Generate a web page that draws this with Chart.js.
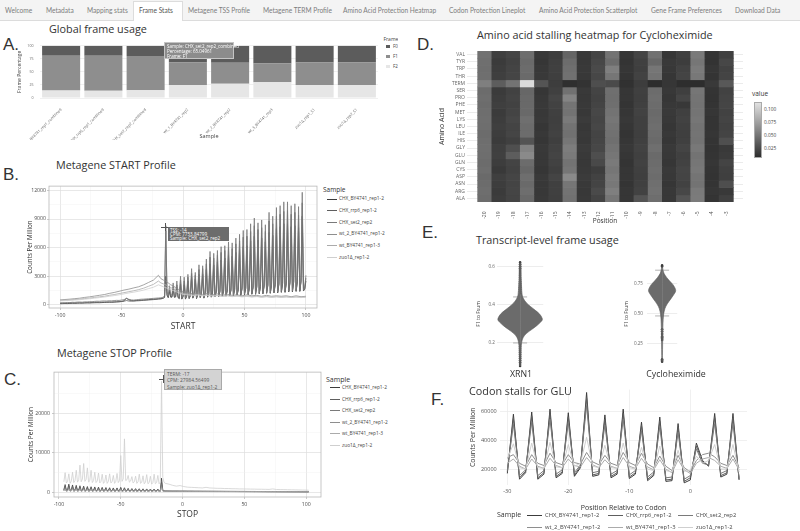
<!DOCTYPE html>
<html>
<head>
<meta charset="utf-8">
<script src="https://cdn.jsdelivr.net/npm/chart.js@4.4.1/dist/chart.umd.min.js"></script>
<style>
html,body{margin:0;padding:0;background:#fff;}
body{position:relative;width:800px;height:531px;overflow:hidden;font-family:'Open Sans',sans-serif;color:#333;}
.t{position:absolute;white-space:nowrap;}
#nav{position:absolute;left:0;top:0;width:800px;height:20px;background:#f4f4f4;border-bottom:1px solid #dcdcdc;}
.tab{position:absolute;top:0;height:20px;line-height:20px;font-family:Lato,sans-serif;font-size:6.6px;color:#7d7d7d;white-space:nowrap;}
#activeTab{position:absolute;top:1px;height:20px;background:#fff;border:1px solid #dcdcdc;border-bottom:none;box-sizing:border-box;}
.ttl{font-size:10.8px;line-height:10.8px;color:#333;}
.lt{font-family:'Liberation Sans',Arial,sans-serif;font-size:17px;line-height:17px;color:#333;}
canvas{position:absolute;}
.lg{position:absolute;white-space:nowrap;color:#333;}
.sw{position:absolute;height:0;}
.tip{position:absolute;white-space:nowrap;box-sizing:border-box;}
</style>
</head>
<body>
<div id="nav"></div>
<div id="activeTab" style="left:133px;width:50px;"></div>

<div class="t lt" style="left:3px;top:35.6px;">A.</div>
<div class="t lt" style="left:3px;top:165.6px;">B.</div>
<div class="t lt" style="left:4px;top:370.6px;">C.</div>
<div class="t lt" style="left:417px;top:35.6px;">D.</div>
<div class="t lt" style="left:422px;top:223.6px;">E.</div>
<div class="t lt" style="left:431px;top:390.6px;">F.</div>

<div class="t ttl" style="left:49px;top:24.4px;">Global frame usage</div>
<div class="t ttl" style="left:56px;top:160px;">Metagene START Profile</div>
<div class="t ttl" style="left:57px;top:347.7px;">Metagene STOP Profile</div>
<div class="t ttl" style="left:477px;top:29.9px;">Amino acid stalling heatmap for Cycloheximide</div>
<div class="t ttl" style="left:476px;top:234.8px;">Transcript-level frame usage</div>

<script>
// ================= DATA =================
const navTabs = ['Welcome','Metadata','Mapping stats','Frame Stats','Metagene TSS Profile','Metagene TERM Profile','Amino Acid Protection Heatmap','Codon Protection Lineplot','Amino Acid Protection Scatterplot','Gene Frame Preferences','Download Data'];

// A. Global frame usage (percent)
const frameSamples = ['CHX_BY4741_rep1_combined','CHX_rrp6_rep1_combined','CHX_set2_rep2_combined','wt_1_BY4741_rep2','wt_2_BY4741_rep2','wt_3_BY4741_rep3','zuo1Δ_rep1_S1','zuo1Δ_rep2_S1'];
const frameNames = ['F0','F1','F2'];
const frameF0 = [19.5,19.1,19.95,32.0,32.5,34.3,32.0,32.0];
const frameF1 = [66.1,67.0,65.05,43.4,40.1,35.4,43.4,43.4];
const frameF2 = [14.4,13.9,15.0,24.6,27.4,30.3,24.6,24.6];
const frameTicks = [0,25,50,75,100];

// shared sample names for B, C, F
const sampleNames = ['CHX_BY4741_rep1-2','CHX_rrp6_rep1-2','CHX_set2_rep2','wt_2_BY4741_rep1-2','wt_BY4741_rep1-3','zuo1Δ_rep1-2'];

// B. Metagene START profile
const startPos = [-100,-98,-96,-94,-92,-90,-88,-86,-84,-82,-80,-78,-76,-74,-72,-70,-68,-66,-64,-62,-60,-58,-56,-54,-52,-50,-48,-46,-44,-42,-40,-38,-36,-34,-32,-30,-28,-26,-24,-22,-20,-18,
-17,-16,-15,-14,-13,-12,-11,-10,-9,-8,-7,-6,-5,-4,-3,-2,-1,
0,1,2,3,4,5,6,7,8,9,10,11,12,13,14,15,16,17,18,19,20,21,22,23,24,25,26,27,28,29,30,31,32,33,34,35,36,37,38,39,40,41,42,43,44,45,46,47,48,49,50,
51,52,53,54,55,56,57,58,59,60,61,62,63,64,65,66,67,68,69,70,71,72,73,74,75,76,77,78,79,80,81,82,83,84,85,86,87,88,89,90,91,92,93,94,95,96,97,98,99,100];
const startPosWt = [-100,-96,-92,-88,-84,-80,-76,-72,-68,-64,-60,-56,-52,-48,-44,-40,-36,-32,-28,-24,-20,-18,-16,-14,-12,-10,-8,-6,-4,-2,0,4,8,12,16,20,24,28,32,36,40,44,48,52,56,60,64,68,72,76,80,84,88,92,96,100];
const startCHX_BY4741 = [120,130,140,135,150,160,155,170,180,175,190,200,195,210,220,230,225,240,250,260,270,265,280,300,320,350,420,700,520,450,430,450,470,490,510,530,550,570,590,610,640,660,
680,720,780,3000,1000,750,1400,800,800,1600,780,820,1800,750,650,2200,600,
850,2100,600,900,2500,650,950,2900,700,1000,2700,650,1050,3200,750,1100,3200,700,1150,3700,800,1200,4300,800,1250,4200,850,1300,4500,850,1350,4700,900,1400,4900,900,1450,5200,950,1500,5100,950,1550,5500,1000,1600,5800,1000,1650,6100,1050,1700,6200,1050,1750,6700,1100,1800,7200,1100,1850,6800,1150,1900,7000,1150,1950,6600,1200,2000,7600,1200,2050,7300,1250,2100,8000,1250,2150,8200,1300,2200,8500,1300,2250,8500,1350,2300,8200,1350,2350,8300,1400,2400,8100,1400,2450,9300,1450,1650,2500];
const startCHX_rrp6 = [160,170,180,175,190,200,195,210,220,215,230,240,235,250,260,270,265,280,290,300,310,305,320,330,340,350,380,450,400,380,400,420,430,450,470,490,510,530,550,570,600,620,
650,700,800,8300,1100,800,1700,900,850,1900,850,900,2100,800,700,2600,650,
900,2500,650,950,2900,700,1000,3300,750,1050,3100,700,1100,3700,800,1150,3800,750,1200,4300,850,1250,5000,850,1300,4900,900,1350,5200,900,1400,5500,950,1450,5700,950,1500,6000,1000,1550,5900,1000,1600,6400,1050,1650,6700,1050,1700,7100,1100,1750,7200,1100,1800,7700,1150,1850,8300,1150,1900,7900,1200,1950,8100,1200,2000,7700,1250,2050,8800,1250,2100,8500,1300,2150,9300,1300,2200,9500,1350,2250,9800,1350,2300,9900,1400,2350,9500,1400,2400,9700,1450,2450,9400,1450,2500,10700,1500,1700,2800];
const startCHX_set2 = [200,230,210,250,240,270,260,290,300,280,320,310,340,330,360,380,370,400,410,400,430,420,450,470,460,500,540,680,580,520,500,540,560,590,600,620,640,660,680,700,720,740,
760,820,950,7754,1400,900,2000,1100,1000,2300,1000,1100,2500,900,800,3000,700,
1000,2900,700,1000,3200,750,1100,3800,800,1150,3400,750,1200,4200,850,1250,4100,800,1300,4800,900,1350,5600,900,1400,5400,950,1450,5700,950,1500,6100,1000,1550,6200,1000,1600,6600,1050,1650,6500,1050,1700,7000,1100,1750,7400,1100,1800,7800,1150,1850,7900,1150,1900,8500,1200,1950,9100,1200,2000,8600,1250,2050,8900,1250,2100,8400,1300,2150,9700,1300,2200,9300,1350,2250,10200,1350,2300,10400,1400,2350,10800,1400,2400,10800,1450,2450,10400,1450,2500,10600,1500,2550,10300,1500,2600,11800,1550,1800,3100];
const startWt2 = [520,560,600,650,700,780,840,920,1000,1080,1200,1300,1420,1550,1650,1780,1900,2100,2350,2600,3100,2750,2600,2500,2300,2100,2000,1800,1650,1500,1350,1300,1150,1250,1100,1200,1050,1150,1000,1100,1000,1050,950,1050,950,1000,900,1000,900,950,900,950,850,950,850,900];
const startWt = [460,490,520,560,600,660,710,780,840,900,1000,1080,1180,1280,1380,1480,1600,1750,1950,2150,2500,2300,2200,2100,1950,1800,1700,1550,1450,1300,1200,1150,1050,1100,1000,1050,950,1000,900,980,900,950,860,930,850,900,820,880,800,860,800,850,780,840,780,820];
const startZuo = [420,440,470,500,540,590,640,700,760,820,900,970,1050,1150,1250,1330,1430,1550,1700,1850,2100,2000,1900,1800,1700,1600,1500,1400,1300,1200,1100,1050,980,1020,950,990,920,960,880,930,860,900,840,880,820,860,800,840,790,830,780,820,770,810,760,800];
const startXMajor = [-100,-50,0,50,100], startXMinor = [-75,-25,25,75];
const startYMajor = [0,3000,6000,9000,12000], startYMinor = [1500,4500,7500,10500];

// C. Metagene STOP profile
const stopPos = [-96,-95,-94,-93,-92,-91,-90,-89,-88,-87,-86,-85,-84,-83,-82,-81,-80,-79,-78,-77,-76,-75,-74,-73,-72,-71,-70,-69,-68,-67,-66,-65,-64,-63,-62,-61,-60,-59,-58,-57,-56,-55,-54,-53,-52,-51,-50,-49,-48,-47,-46,-45,-44,-43,-42,-41,-40,-39,-38,-37,-36,-35,-34,-33,-32,-31,-30,-29,-28,-27,-26,-25,-24,-23,-22,-21,-20,-19,-18,-17,-16,-15,-14,
-11,-8,-5,-2,1,4,7,10,13,16,19,22,25,28,31,34,37,40,43,46,49,52,55,58,61,64,67,70,73,76,79,82,85,88,91,94,97,100,102];
const stopCHX_BY4741 = [700,2000,500,700,2100,500,700,1900,480,680,1800,470,650,1700,460,640,1600,450,620,1500,440,600,1450,430,590,1400,420,580,1350,410,570,1300,400,560,1250,400,550,1200,390,540,1150,380,530,1150,380,520,1300,390,520,1200,380,510,1050,370,500,1000,360,490,980,350,480,950,350,470,930,340,460,900,340,450,880,330,440,860,330,430,850,320,420,3600,600,400,380,
350,340,340,330,330,320,320,310,310,300,300,300,290,290,290,280,280,280,270,270,270,260,260,260,250,250,250,240,240,240,230,230,230,220,220,220,210,210,210];
const stopCHX_rrp6 = [600,1600,450,600,1700,450,620,1550,440,600,1450,430,590,1400,420,580,1300,410,560,1250,400,550,1200,390,540,1150,380,530,1100,370,520,1080,360,510,1050,360,500,1000,350,490,980,350,480,960,340,470,1100,350,470,1050,340,460,900,330,450,880,320,440,860,320,430,840,310,420,820,310,410,800,300,400,780,300,400,770,290,390,760,290,380,2600,500,360,340,
320,310,310,300,300,295,290,285,280,280,275,270,270,265,260,260,255,250,250,245,240,240,235,230,230,225,220,220,215,210,210,205,200,200,195,190,190,185,180];
const stopCHX_set2 = [520,1300,400,520,1350,400,530,1250,390,520,1200,380,510,1150,370,500,1100,360,490,1050,350,480,1000,350,470,980,340,460,950,330,450,920,330,440,900,320,430,880,320,420,860,310,410,850,310,400,950,320,400,920,310,390,800,300,380,780,300,370,770,290,370,750,290,360,740,280,350,730,280,350,720,270,340,710,270,330,700,260,330,2000,450,320,300,
290,285,280,275,270,265,260,258,255,250,248,245,240,238,235,230,228,225,220,218,215,210,208,205,200,198,195,190,188,185,180,178,175,170,168,165,160,158,155];
const stopWt2 = [450,1000,350,450,1050,350,460,980,340,450,950,340,440,920,330,430,900,330,420,870,320,410,850,320,400,830,310,400,810,310,390,790,300,380,780,300,380,760,290,370,750,290,360,740,280,360,820,290,360,800,280,350,700,270,340,690,270,340,680,260,330,670,260,330,660,250,320,650,250,320,640,240,310,630,240,300,620,230,300,1500,400,300,320,
330,330,340,320,320,310,310,300,300,300,290,290,290,280,280,280,270,270,270,260,260,260,250,250,250,240,240,240,230,230,230,220,220,220,210,210,210,200,200];
const stopWt = [400,850,320,400,880,320,410,830,310,400,800,310,390,780,300,380,760,300,370,740,290,360,720,290,360,700,280,350,690,280,350,680,270,340,670,270,340,660,260,330,650,260,330,640,250,320,700,260,320,690,250,310,620,240,310,610,240,300,600,230,300,590,230,290,580,220,290,570,220,280,560,210,280,550,210,270,540,200,270,1200,350,280,300,
310,310,320,300,300,290,290,290,280,280,280,270,270,270,260,260,260,250,250,250,240,240,240,230,230,230,220,220,220,210,210,210,200,200,200,190,190,190,190];
const stopZuo = [2700,5000,2400,2800,4700,2300,2900,5100,2500,3000,5600,2600,3200,6900,2700,3400,7300,2800,3300,6200,2600,3100,5600,2500,3000,5100,2500,2900,4900,2400,2800,4600,2300,2700,4400,2300,2800,4700,2400,2700,4300,2300,2800,4800,2500,3000,9300,2800,3400,13500,3000,3200,4300,2600,2900,4000,2400,2700,4100,2300,2700,4600,2300,2600,4200,2200,2600,4500,2200,2500,4100,2100,2500,4600,2200,2500,4300,2200,2600,27984,3800,2600,2300,
2100,1800,1600,1750,1500,1350,1300,1250,1200,1150,1300,1150,1100,1050,1050,1000,1000,950,950,900,900,880,860,850,830,820,800,780,900,760,740,720,700,680,660,640,620,600,580];
const stopXMajor = [-100,-50,0,50,100], stopXMinor = [-75,-25,25,75];
const stopYMajor = [0,10000,20000], stopYMinor = [5000,15000,25000];

// D. Amino acid stalling heatmap (rows top -> bottom)
const heatAminoAcids = ['VAL','TYR','TRP','THR','TERM','SER','PRO','PHE','MET','LYS','LEU','ILE','HIS','GLY','GLU','GLN','CYS','ASP','ASN','ARG','ALA'];
const heatPositions = ['-20','-19','-18','-17','-16','-15','-14','-13','-12','-11','-10','-9','-8','-7','-6','-5','-4','-3'];
const heatVAL  = [0.047,0.017,0.021,0.045,0.013,0.016,0.040,0.014,0.020,0.048,0.012,0.020,0.047,0.012,0.017,0.052,0.011,0.018];
const heatTYR  = [0.046,0.015,0.019,0.043,0.012,0.017,0.044,0.013,0.022,0.044,0.011,0.018,0.041,0.014,0.016,0.050,0.010,0.022];
const heatTRP  = [0.045,0.016,0.020,0.044,0.013,0.018,0.046,0.014,0.024,0.055,0.012,0.017,0.050,0.013,0.019,0.053,0.012,0.019];
const heatTHR  = [0.046,0.017,0.021,0.043,0.014,0.017,0.047,0.013,0.022,0.050,0.011,0.019,0.048,0.012,0.020,0.051,0.011,0.020];
const heatTERM = [0.055,0.035,0.048,0.110,0.030,0.016,0.008,0.010,0.026,0.024,0.009,0.016,0.006,0.012,0.007,0.006,0.014,0.032];
const heatSER  = [0.044,0.015,0.019,0.041,0.012,0.018,0.047,0.014,0.020,0.046,0.012,0.018,0.044,0.013,0.017,0.050,0.011,0.019];
const heatPRO  = [0.045,0.016,0.020,0.042,0.013,0.021,0.058,0.013,0.019,0.045,0.012,0.017,0.045,0.012,0.021,0.049,0.010,0.020];
const heatPHE  = [0.044,0.017,0.019,0.042,0.014,0.019,0.049,0.014,0.020,0.046,0.011,0.018,0.044,0.013,0.013,0.048,0.011,0.021];
const heatMET  = [0.045,0.015,0.020,0.042,0.013,0.018,0.048,0.013,0.022,0.048,0.012,0.019,0.043,0.014,0.018,0.049,0.012,0.019];
const heatLYS  = [0.046,0.016,0.022,0.046,0.014,0.017,0.052,0.015,0.021,0.050,0.013,0.018,0.044,0.013,0.019,0.050,0.011,0.020];
const heatLEU  = [0.045,0.017,0.020,0.044,0.012,0.018,0.048,0.013,0.022,0.048,0.012,0.018,0.045,0.012,0.018,0.048,0.011,0.019];
const heatILE  = [0.044,0.016,0.021,0.044,0.013,0.019,0.047,0.014,0.020,0.047,0.011,0.017,0.044,0.013,0.017,0.049,0.012,0.020];
const heatHIS  = [0.045,0.015,0.018,0.030,0.012,0.017,0.050,0.013,0.021,0.046,0.012,0.018,0.043,0.012,0.018,0.048,0.011,0.027];
const heatGLY  = [0.046,0.017,0.027,0.057,0.014,0.019,0.054,0.015,0.022,0.048,0.013,0.019,0.046,0.014,0.020,0.051,0.010,0.014];
const heatGLU  = [0.045,0.018,0.035,0.062,0.013,0.020,0.052,0.014,0.026,0.050,0.012,0.018,0.043,0.013,0.018,0.048,0.011,0.015];
const heatGLN  = [0.044,0.016,0.020,0.044,0.013,0.019,0.048,0.013,0.023,0.052,0.011,0.019,0.044,0.012,0.019,0.050,0.012,0.020];
const heatCYS  = [0.045,0.014,0.019,0.041,0.012,0.017,0.050,0.014,0.016,0.050,0.012,0.018,0.045,0.014,0.021,0.051,0.011,0.018];
const heatASP  = [0.043,0.017,0.021,0.045,0.014,0.020,0.062,0.015,0.019,0.052,0.012,0.017,0.044,0.013,0.020,0.049,0.010,0.017];
const heatASN  = [0.044,0.016,0.020,0.043,0.013,0.018,0.050,0.014,0.020,0.051,0.011,0.018,0.046,0.012,0.019,0.048,0.011,0.026];
const heatARG  = [0.045,0.015,0.021,0.045,0.013,0.018,0.048,0.013,0.024,0.055,0.012,0.019,0.047,0.013,0.022,0.052,0.012,0.014];
const heatALA  = [0.044,0.016,0.020,0.042,0.014,0.017,0.047,0.014,0.020,0.050,0.012,0.030,0.045,0.013,0.030,0.053,0.011,0.018];
const heatRows = [heatVAL,heatTYR,heatTRP,heatTHR,heatTERM,heatSER,heatPRO,heatPHE,heatMET,heatLYS,heatLEU,heatILE,heatHIS,heatGLY,heatGLU,heatGLN,heatCYS,heatASP,heatASN,heatARG,heatALA];
const heatScaleLabels = ['0.100','0.075','0.050','0.025'];

// E. Transcript-level frame usage (violin outlines: level -> half density width)
const violinGroups = ['XRN1','Cycloheximide'];
const xrn1Levels = [0.08,0.12,0.16,0.19,0.21,0.23,0.25,0.27,0.29,0.31,0.32,0.33,0.35,0.37,0.39,0.41,0.43,0.45,0.50,0.55,0.60,0.62];
const xrn1Density = [0.02,0.03,0.04,0.05,0.08,0.14,0.28,0.50,0.72,0.90,0.96,0.95,0.85,0.66,0.45,0.27,0.15,0.09,0.06,0.04,0.03,0.02];
const xrn1Outliers = [0.08,0.09,0.10,0.11,0.12,0.13,0.14,0.15,0.16,0.17,0.18,0.19,0.46,0.47,0.48,0.49,0.50,0.51,0.52,0.53,0.54,0.55,0.56,0.57,0.58,0.59,0.60,0.61,0.62];
const xrn1Whiskers = [0.20,0.44];
const xrn1Ticks = [0.2,0.4,0.6];
const chxLevels = [0.10,0.20,0.30,0.38,0.45,0.48,0.52,0.56,0.60,0.64,0.67,0.69,0.71,0.74,0.77,0.80,0.83,0.86,0.89];
const chxDensity = [0.02,0.03,0.04,0.05,0.07,0.09,0.14,0.25,0.45,0.68,0.84,0.90,0.86,0.72,0.50,0.30,0.14,0.06,0.02];
const chxOutliers = [0.10,0.11,0.12,0.28,0.29,0.30,0.31,0.33,0.35,0.37,0.89,0.90];
const chxWhiskers = [0.48,0.86];
const chxTicks = [0.25,0.50,0.75];

// F. Codon stalls for GLU
const codonPos = [-30,-29,-28,-27,-26,-25,-24,-23,-22,-21,-20,-19,-18,-17,-16,-15,-14,-13,-12,-11,-10,-9,-8,-7,-6,-5,-4,-3,-2,-1,0,1,2,3,4,5,6,7,8];
const codonCHX_BY4741 = [17000,58000,13000,17500,59500,13000,16500,61500,14000,17000,59000,15000,21000,73000,15000,16000,57500,14000,16500,61500,13500,16500,52500,12000,15500,56000,11500,12000,51500,10500,12500,38000,26000,22000,58500,14500,16500,58500,12500];
const codonCHX_rrp6 = [18000,55000,14000,18500,56500,14000,17500,58500,15000,18000,56000,16000,22000,69000,16000,17000,54500,15000,17500,58500,14500,17500,50000,13000,16500,53000,12500,13000,49000,11500,14000,36000,25000,22500,55500,15500,17500,55500,13000];
const codonCHX_set2 = [19000,51000,15500,19500,52500,15500,19000,54500,16500,19500,52000,17500,23000,64000,17500,18500,50500,16500,19000,54500,16000,19000,46500,14500,18000,49500,14000,14500,45500,13000,15500,34000,24000,23000,51500,17000,19000,51500,14000];
const codonWt2 = [28000,30000,24000,22000,30000,24000,22500,31000,24500,23000,30000,24500,23500,31500,25000,23000,29500,24000,22500,31500,24500,22500,31000,23500,21000,29000,22000,19000,29500,21000,18000,26000,30000,31000,28500,24000,22500,29500,21000];
const codonWt = [24000,27000,22000,20000,27000,22000,20500,27500,22500,21000,27000,22500,21500,28000,23000,21000,26500,22000,20500,28000,22000,20500,27500,21500,19500,26500,20000,17500,26500,19500,17000,24000,27000,28000,26000,22000,20500,27000,19500];
const codonZuo = [27000,37500,21000,20000,38000,21000,20500,38500,21500,21000,37000,22000,24000,42000,22000,21000,36500,21000,20500,38000,21000,20000,35000,20000,19000,36000,19000,18000,33000,18500,19000,29000,24000,26000,37000,20000,20000,37000,18000];
const codonXTicks = [-30,-20,-10,0];
const codonYTicks = [20000,40000,60000];

// ================= STYLE / LAYOUT =================
const navX = [5,46,87,139,188,263,343,449,539,651,735];
const frameColors = ['#5c5c5c','#8e8e8e','#e6e6e6'];
const sampleColors = ['#3c3c3c','#5e5e5e','#7a7a7a','#8e8e8e','#ababab','#cfcfcf'];

Chart.defaults.font.family = "'Open Sans', sans-serif";
Chart.defaults.color = '#4d4d4d';
Chart.defaults.animation = false;
Chart.defaults.responsive = false;
Chart.defaults.devicePixelRatio = 1;
Chart.defaults.events = [];
Chart.defaults.plugins.legend.display = false;
Chart.defaults.plugins.tooltip.enabled = false;

const M = 2;
function mkCanvas(L, T, R, B, yW, xH) {
  const c = document.createElement('canvas');
  const w = R - L + yW + 2 * M, h = B - T + xH + 2 * M;
  c.width = w; c.height = h;
  c.style.left = (L - yW - M) + 'px'; c.style.top = (T - M) + 'px';
  c.style.width = w + 'px'; c.style.height = h + 'px';
  document.body.appendChild(c);
  return c;
}
const framePlugin = {
  id: 'frame',
  afterDatasetsDraw(chart, args, opts) {
    if (!opts || !opts.color) return;
    const a = chart.chartArea, ctx = chart.ctx;
    ctx.save(); ctx.strokeStyle = opts.color; ctx.lineWidth = 0.8;
    ctx.strokeRect(a.left, a.top, a.right - a.left, a.bottom - a.top);
    ctx.restore();
  }
};
function setTicks(list) { return s => { s.ticks = list.map(v => ({value: v})); }; }
function html(tag, cls, style, text) {
  const d = document.createElement(tag); if (cls) d.className = cls;
  d.setAttribute('style', style); if (text !== undefined) d.textContent = text;
  document.body.appendChild(d); return d;
}

// ---------- nav ----------
navTabs.forEach((t, i) => {
  html('div', 'tab', 'left:' + navX[i] + 'px;' + (i === 3 ? 'color:#555;' : ''), t);
});

// ---------- A ----------
(function () {
  const c = mkCanvas(40, 39, 378, 98, 37, 42);
  new Chart(c, {
    type: 'bar',
    data: { labels: frameSamples, datasets: [
      { label: 'F2', data: frameF2, backgroundColor: frameColors[2] },
      { label: 'F1', data: frameF1, backgroundColor: frameColors[1] },
      { label: 'F0', data: frameF0, backgroundColor: frameColors[0] }
    ]},
    options: {
      layout: { padding: M },
      datasets: { bar: { barPercentage: 0.9, categoryPercentage: 1, borderWidth: 0 } },
      scales: {
        x: { stacked: true, grid: { display: false }, border: { display: false },
             ticks: { autoSkip: false, minRotation: 45, maxRotation: 45, font: { size: 3.9 }, color: '#666', padding: 1.5 },
             title: { display: true, text: 'Sample', font: { size: 5.5 }, color: '#444', padding: { top: 0, bottom: 0.7 } },
             afterFit: s => { s.height = 42; } },
        y: { stacked: true, min: 0, max: 100, afterBuildTicks: setTicks(frameTicks),
             grid: { color: '#ececec', lineWidth: 0.8, drawTicks: false }, border: { display: false },
             ticks: { font: { size: 3.6 }, color: '#666', padding: 6.5 },
             title: { display: true, text: 'Frame Percentage', font: { size: 5 }, color: '#444', padding: { top: 14, bottom: 0 } },
             afterFit: s => { s.width = 37; } }
      }
    }
  });
  // legend (clipped by panel D edge)
  const box = html('div', '', 'position:absolute;left:380px;top:34px;width:18px;height:40px;overflow:hidden;');
  const lt = document.createElement('div'); lt.className = 'lg';
  lt.setAttribute('style', 'left:3.5px;top:2px;font-size:5px;line-height:6px;color:#444;'); lt.textContent = 'Frame'; box.appendChild(lt);
  frameNames.forEach((n, i) => {
    const sq = document.createElement('div');
    sq.setAttribute('style', 'position:absolute;left:6px;top:' + (10.5 + 10 * i) + 'px;width:3.5px;height:3.5px;background:' + frameColors[i] + ';');
    box.appendChild(sq);
    const tx = document.createElement('div'); tx.className = 'lg';
    tx.setAttribute('style', 'left:13px;top:' + (9.5 + 10 * i) + 'px;font-size:4.5px;line-height:5px;color:#444;'); tx.textContent = n;
    box.appendChild(tx);
  });
  html('div', 'tip', 'left:164px;top:41.5px;width:70px;height:17.5px;background:#8c8c8c;border:0.8px solid #c4c4c4;color:#fff;font-size:4.5px;line-height:5.2px;padding:1px 2px;',
    '').innerHTML = 'Sample: CHX_set2_rep2_combined<br>Percentage: 65.04961<br>Frame: F1';
})();

// ---------- B & C ----------
function profile(c, xArrays, yArrays, o) {
  const isMajX = v => o.xMajor.includes(v), isMajY = v => o.yMajor.includes(v);
  new Chart(c, {
    type: 'line',
    data: { datasets: yArrays.map((ys, i) => ({
      label: sampleNames[i],
      data: xArrays[i].map((x, j) => ({ x: x, y: ys[j] })),
      borderColor: sampleColors[i], borderWidth: 0.8, pointRadius: 0, tension: 0, order: -i
    })) },
    options: {
      layout: { padding: M },
      plugins: { frame: { color: '#b8b8b8' } },
      scales: {
        x: { type: 'linear', min: o.xMin, max: o.xMax, afterBuildTicks: setTicks(o.xMajor.concat(o.xMinor)),
             grid: { color: ctx => isMajX(ctx.tick.value) ? '#dedede' : '#efefef', lineWidth: ctx => isMajX(ctx.tick.value) ? 0.7 : 0.4,
                     drawTicks: true, tickLength: 2, tickColor: ctx => isMajX(ctx.tick.value) ? '#b3b3b3' : 'rgba(0,0,0,0)' },
             border: { display: false },
             ticks: { font: { size: 5.2 }, color: '#4d4d4d', padding: o.xPad, callback: v => isMajX(v) ? String(v) : '' },
             title: { display: true, text: o.xTitle, font: { size: 8.5 }, color: '#333', padding: { top: 0, bottom: 0 } },
             afterFit: s => { s.height = o.xH; } },
        y: { type: 'linear', min: o.yMin, max: o.yMax, afterBuildTicks: setTicks(o.yMajor.concat(o.yMinor)),
             grid: { color: ctx => isMajY(ctx.tick.value) ? '#dedede' : '#efefef', lineWidth: ctx => isMajY(ctx.tick.value) ? 0.7 : 0.4,
                     drawTicks: true, tickLength: 2, tickColor: ctx => isMajY(ctx.tick.value) ? '#b3b3b3' : 'rgba(0,0,0,0)' },
             border: { display: false },
             ticks: { font: { size: 5.2 }, color: '#4d4d4d', padding: o.yPad, callback: v => isMajY(v) ? String(v) : '' },
             title: { display: true, text: 'Counts Per Million', font: { size: o.yTitleSize }, color: '#333', padding: { top: o.yTitlePad, bottom: 0 } },
             afterFit: s => { s.width = o.yW; } }
      }
    },
    plugins: [framePlugin]
  });
}
function sideLegend(x, y0, step, titleSize, textSize) {
  html('div', 'lg', 'left:' + (x - 4) + 'px;top:' + (y0 - 8.5 - titleSize / 2) + 'px;font-size:' + titleSize + 'px;line-height:' + titleSize + 'px;', 'Sample');
  sampleNames.forEach((n, i) => {
    const y = y0 + step * i;
    html('div', 'sw', 'left:' + x + 'px;top:' + (y - 0.5) + 'px;width:10px;border-top:1px solid ' + sampleColors[i] + ';');
    html('div', 'lg', 'left:' + (x + 12) + 'px;top:' + (y - textSize / 2 - 0.3) + 'px;font-size:' + textSize + 'px;line-height:' + textSize + 'px;color:#444;', n);
  });
}
function cross(x, y) {
  html('div', '', 'position:absolute;left:' + (x - 4) + 'px;top:' + y + 'px;width:8px;border-top:0.8px solid #555;');
  html('div', '', 'position:absolute;left:' + x + 'px;top:' + (y - 4) + 'px;height:8px;border-left:0.8px solid #555;');
}
(function () {
  const c = mkCanvas(49, 184, 317, 308, 46, 24);
  profile(c, [startPos, startPos, startPos, startPosWt, startPosWt, startPosWt],
    [startCHX_BY4741, startCHX_rrp6, startCHX_set2, startWt2, startWt, startZuo],
    { xMin: -109, xMax: 109, yMin: -330, yMax: 12450, xMajor: startXMajor, xMinor: startXMinor, yMajor: startYMajor, yMinor: startYMinor,
      xTitle: 'START', xH: 24, yW: 46, xPad: 2.7, yPad: 1, yTitleSize: 6.3, yTitlePad: 23.2 });
  sideLegend(327, 199, 11.7, 6.5, 4.8);
  cross(165, 227.3);
  html('div', 'tip', 'left:168px;top:226.5px;width:61px;height:14.5px;background:#6c6c6c;color:#fff;font-size:4.6px;line-height:4.1px;padding:1.3px 2px;', '')
    .innerHTML = 'TSS: -14<br>CPM: 7753.84799<br>Sample: CHX_set2_rep2';
})();
(function () {
  const c = mkCanvas(54, 369, 321, 497, 50, 23);
  const xs = [stopPos, stopPos, stopPos, stopPos, stopPos, stopPos];
  profile(c, xs, [stopCHX_BY4741, stopCHX_rrp6, stopCHX_set2, stopWt2, stopWt, stopZuo],
    { xMin: -104, xMax: 112, yMin: -1130, yMax: 30300, xMajor: stopXMajor, xMinor: stopXMinor, yMajor: stopYMajor, yMinor: stopYMinor,
      xTitle: 'STOP', xH: 23, yW: 50, xPad: 2.3, yPad: 2, yTitleSize: 6.5, yTitlePad: 23.1 });
  sideLegend(330, 387.7, 11.5, 7, 4.8);
  cross(163.3, 379);
  html('div', 'tip', 'left:164px;top:369px;width:58px;height:21px;background:#d3d3d3;border:0.8px solid #a9a9a9;color:#555;font-size:4.9px;line-height:6.6px;padding:0.5px 2px;', '')
    .innerHTML = 'TERM: -17<br>CPM: 27984.56499<br>Sample: zuo1Δ_rep1-2';
})();

// ---------- D heatmap ----------
function heatGray(v) {
  const g = Math.round(45 + Math.max(0, Math.min(1, (v - 0.0066) / 0.1068)) * 180);
  return 'rgb(' + g + ',' + g + ',' + g + ')';
}
(function () {
  const c = mkCanvas(467, 48, 743, 202, 30, 24);
  const nRows = heatAminoAcids.length;
  const datasets = heatRows.map((row, r) => ({
    label: heatAminoAcids[r],
    data: row.map((v, j) => ({ x: j, y: [nRows - 1 - r - 0.5, nRows - 1 - r + 0.5] })),
    backgroundColor: row.map(v => heatGray(v)),
    borderWidth: 0, barPercentage: 1, categoryPercentage: 1, grouped: false
  }));
  new Chart(c, {
    type: 'bar',
    data: { datasets: datasets },
    options: {
      layout: { padding: M },
      scales: {
        x: { type: 'linear', min: -1.25, max: 18.18, offset: false,
             afterBuildTicks: setTicks(heatPositions.map((p, j) => j)),
             grid: { display: false }, border: { display: false },
             ticks: { autoSkip: false, minRotation: 90, maxRotation: 90, font: { size: 5 }, color: '#555', padding: 1.5,
                      callback: v => heatPositions[v] },
             title: { display: true, text: 'Position', font: { size: 6.5 }, color: '#333', padding: { top: 0, bottom: 1.4 } },
             afterFit: s => { s.height = 24; } },
        y: { type: 'linear', min: -0.5, max: nRows - 0.5,
             afterBuildTicks: setTicks(heatAminoAcids.map((a, i) => i)),
             grid: { color: '#e6e6e6', lineWidth: 0.8, drawTicks: false }, border: { display: false },
             ticks: { autoSkip: false, font: { size: 5 }, color: '#666', padding: 2,
                      callback: v => heatAminoAcids[nRows - 1 - v] },
             title: { display: true, text: 'Amino Acid', font: { size: 7 }, color: '#333', padding: { top: 0.5, bottom: 0 } },
             afterFit: s => { s.width = 30; } }
      }
    }
  });
  html('div', 'lg', 'left:752px;top:90px;font-size:6.5px;line-height:7px;color:#333;', 'value');
  html('div', '', 'position:absolute;left:754px;top:102px;width:8px;height:56px;box-sizing:border-box;border:0.6px solid #aaa;background:linear-gradient(to bottom, rgb(225,225,225), rgb(45,45,45));');
  const ly = [109, 122, 135.3, 148.3];
  heatScaleLabels.forEach((t, i) => html('div', 'lg', 'left:764px;top:' + (ly[i] - 2.5) + 'px;font-size:4.8px;line-height:5px;color:#444;', t));
})();

// ---------- E violins ----------
function violin(c, o) {
  const dens = o.density;
  new Chart(c, {
    type: 'line',
    data: { datasets: [
      { data: o.levels.map((y, i) => ({ x: -dens[i], y: y })), fill: { value: 0 }, backgroundColor: '#6b6b6b', borderColor: '#5d5d5d', borderWidth: 0.6, pointRadius: 0, tension: 0.35 },
      { data: o.levels.map((y, i) => ({ x: dens[i], y: y })), fill: { value: 0 }, backgroundColor: '#6b6b6b', borderColor: '#5d5d5d', borderWidth: 0.6, pointRadius: 0, tension: 0.35 },
      { data: o.outliers.map(y => ({ x: 0, y: y })), showLine: false, pointRadius: 1.3, pointBackgroundColor: '#3a3a3a', pointBorderWidth: 0 },
      { data: o.whiskers.map(y => ({ x: 0, y: y })), showLine: false, pointStyle: 'line', pointRadius: 7, pointBorderColor: '#a0a0a0', pointBorderWidth: 0.8 }
    ]},
    options: {
      indexAxis: 'y',
      layout: { padding: M },
      scales: {
        x: { type: 'linear', min: -1, max: 1, grid: { display: false }, border: { display: false }, ticks: { display: false },
             afterFit: s => { s.height = 12; } },
        y: { type: 'linear', min: o.yMin, max: o.yMax, afterBuildTicks: setTicks(o.ticks),
             grid: { color: '#e8e8e8', lineWidth: 0.8, drawTicks: false }, border: { display: false },
             ticks: { font: { size: 4.6 }, color: '#666', padding: o.yPad, callback: v => o.fmt(v) },
             title: { display: true, text: 'F1 to Fsum', font: { size: 5 }, color: '#444', padding: { top: o.tPad, bottom: 0 } },
             afterFit: s => { s.width = o.yW; } }
      }
    }
  });
  html('div', 'lg', 'left:' + (o.labelX - 50) + 'px;top:370.3px;width:100px;text-align:center;font-size:8.8px;line-height:8.8px;color:#333;', o.name);
}
violin(mkCanvas(497, 252, 549, 370, 26, 12), { name: violinGroups[0], labelX: 521, levels: xrn1Levels, density: xrn1Density, outliers: xrn1Outliers, whiskers: xrn1Whiskers,
  ticks: xrn1Ticks, yMin: 0.059, yMax: 0.644, yW: 26, yPad: 2, tPad: 5, fmt: v => v.toFixed(1) });
violin(mkCanvas(647, 252, 683, 370, 28, 12), { name: violinGroups[1], labelX: 676, levels: chxLevels, density: chxDensity, outliers: chxOutliers, whiskers: chxWhiskers,
  ticks: chxTicks, yMin: 0.031, yMax: 0.963, yW: 28, yPad: 4, tPad: 4.7, fmt: v => v.toFixed(2) });

// ---------- F ----------
(function () {
  const c = mkCanvas(500, 385, 747, 485, 31, 27);
  const ys = [codonCHX_BY4741, codonCHX_rrp6, codonCHX_set2, codonWt2, codonWt, codonZuo];
  new Chart(c, {
    type: 'line',
    data: { datasets: ys.map((arr, i) => ({ label: sampleNames[i], data: codonPos.map((x, j) => ({ x: x, y: arr[j] })),
      borderColor: sampleColors[i], borderWidth: 1, pointRadius: 0, tension: 0, order: -i })) },
    options: {
      layout: { padding: M },
      scales: {
        x: { type: 'linear', min: -31.2, max: 9.3, afterBuildTicks: setTicks(codonXTicks),
             grid: { color: '#ececec', lineWidth: 0.8, drawTicks: false }, border: { display: false },
             ticks: { font: { size: 5.5 }, color: '#555', padding: 3.4, callback: v => String(v) },
             title: { display: true, text: 'Position Relative to Codon', font: { size: 7 }, color: '#333', padding: { top: 0, bottom: 0 } },
             afterFit: s => { s.height = 27; } },
        y: { type: 'linear', min: 9000, max: 75000, afterBuildTicks: setTicks(codonYTicks),
             grid: { color: '#ececec', lineWidth: 0.8, drawTicks: false }, border: { display: false },
             ticks: { font: { size: 5.5 }, color: '#555', padding: 3.3, callback: v => String(v) },
             title: { display: true, text: 'Counts Per Million', font: { size: 7 }, color: '#333', padding: { top: 0.1, bottom: 0 } },
             afterFit: s => { s.width = 31; } }
      }
    }
  });
  html('div', 't ttl', 'left:469px;top:386.4px;', 'Codon stalls for GLU');
  html('div', 'lg', 'left:497px;top:511px;font-size:7px;line-height:8px;color:#333;', 'Sample');
  const sx = [527, 608, 678], rowY = [515, 527.3];
  sampleNames.forEach((n, i) => {
    const col = i % 3, row = Math.floor(i / 3);
    html('div', 'sw', 'left:' + sx[col] + 'px;top:' + (rowY[row] - 0.5) + 'px;width:15px;border-top:1px solid ' + sampleColors[i] + ';');
    html('div', 'lg', 'left:' + (sx[col] + 18) + 'px;top:' + (rowY[row] - 3.3) + 'px;font-size:5.8px;line-height:6.6px;color:#444;', n);
  });
})();
</script>
</body>
</html>
